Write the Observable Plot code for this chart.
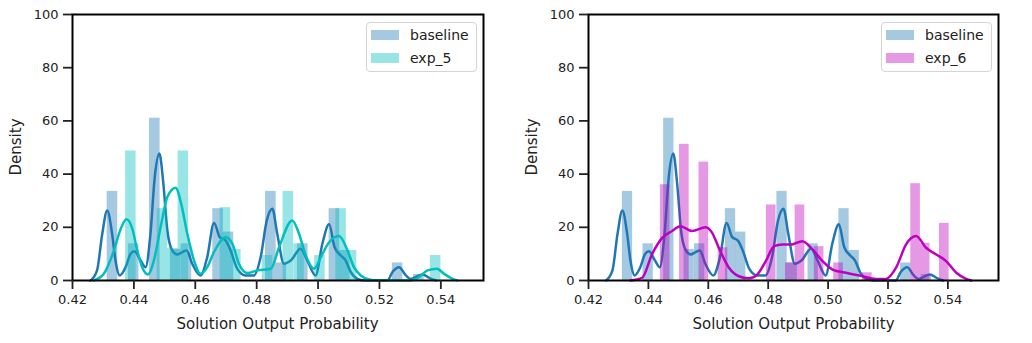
<!DOCTYPE html>
<html><head><meta charset="utf-8">
<script src="https://cdn.jsdelivr.net/npm/d3@7"></script>
<script src="https://cdn.jsdelivr.net/npm/@observablehq/plot@0.6"></script>
<style>
body{margin:0;background:#fff;}
#wrap{position:relative;width:1032px;height:343px;display:flex;}
.panel{position:relative;width:516px;height:343px;}
.legend{position:absolute;width:109px;height:48px;border:1px solid #d4d4d4;border-radius:4px;background:rgba(255,255,255,0.8);font:14px "DejaVu Sans",sans-serif;color:#222;}
.legend .row{position:absolute;left:0;height:20px;}
.legend .sw{position:absolute;left:4px;width:28px;height:10px;}
.legend .lb{position:absolute;left:43px;white-space:nowrap;line-height:20px;}
.xlab{position:absolute;top:314px;width:411px;text-align:center;font:15px "DejaVu Sans",sans-serif;color:#222;line-height:20px;}
.ylab{position:absolute;left:16px;top:147px;font:15px "DejaVu Sans",sans-serif;color:#222;line-height:20px;transform:translate(-50%,-50%) rotate(-90deg);white-space:nowrap;}
</style></head>
<body><div id="wrap"></div>
<script>
// ---- data ----
const xTicks = [0.42, 0.44, 0.46, 0.48, 0.50, 0.52, 0.54];
const yTicks = [0, 20, 40, 60, 80, 100];
const xLabel = "Solution Output Probability";
const yLabel = "Density";

// baseline histogram (bin left edge, density)
const baseBinWidth = 0.00344;
const baseBinX = [0.4313, 0.4382, 0.4451, 0.4519, 0.4554, 0.4657, 0.4691, 0.4829, 0.4863, 0.4933, 0.5036, 0.5070, 0.5242, 0.5311];
const baseBinH = [33.5, 13.8, 61.0, 11.7, 13.8, 27.0, 18.2, 33.5, 6.6, 13.8, 27.0, 11.3, 6.6, 2.3];

// exp_5 histogram
const exp5BinWidth = 0.003424;
const exp5BinX = [0.4373, 0.4476, 0.4510, 0.4544, 0.4681, 0.4715, 0.4818, 0.4886, 0.4921, 0.4989, 0.5058, 0.5092, 0.5366];
const exp5BinH = [48.7, 27.0, 12.0, 48.7, 27.4, 11.7, 9.4, 33.5, 13.8, 9.4, 27.0, 11.3, 9.4];

// exp_6 histogram
const exp6BinWidth = 0.003214;
const exp6BinX = [0.4440, 0.4504, 0.4569, 0.4633, 0.4794, 0.4858, 0.4890, 0.4954, 0.5019, 0.5115, 0.5276, 0.5308, 0.5372];
const exp6BinH = [36.0, 51.2, 44.5, 12.3, 28.4, 6.6, 28.4, 12.7, 6.6, 2.9, 36.4, 14.0, 21.5];

// KDE curves
const baseKdeX = [0.4259,0.4280,0.4297,0.4313,0.4329,0.4340,0.4354,0.4373,0.4389,0.4402,0.4422,0.4438,0.4454,0.4468,0.4483,0.4496,0.4509,0.4525,0.4541,0.4558,0.4572,0.4590,0.4617,0.4639,0.4661,0.4680,0.4699,0.4715,0.4737,0.4764,0.4791,0.4813,0.4833,0.4851,0.4867,0.4889,0.4911,0.4943,0.4965,0.4992,0.5014,0.5036,0.5054,0.5074,0.5090,0.5107,0.5128,0.5150,0.5226,0.5242,0.5264,0.5286,0.5302,0.5318,0.5340,0.5362,0.5384];
const baseKdeY = [0,3.8,17.6,26.3,17.6,7.5,1.9,5,10,11,7.5,5,17.6,38.9,47.7,36.4,18.8,11.3,9.8,10.7,11.3,6.3,1.9,8.8,21.6,16.3,15,11.3,4.4,1.9,1.9,8.8,22.6,27,17.6,6.3,7.5,11.9,7.5,1.9,13.8,21.1,12.5,9.4,7.5,3.1,0.6,0,0,3.1,5,1.9,0.6,1.3,2.3,1,0];

const exp5KdeX = [0.4270,0.4302,0.4335,0.4357,0.4376,0.4395,0.4411,0.4427,0.4446,0.4465,0.4487,0.4509,0.4536,0.4554,0.4574,0.4596,0.4617,0.4639,0.4661,0.4699,0.4721,0.4742,0.4770,0.4802,0.4846,0.4873,0.4916,0.4938,0.4960,0.4987,0.5009,0.5036,0.5068,0.5096,0.5117,0.5139,0.5166,0.5193,0.5302,0.5329,0.5357,0.5387,0.5411,0.5438,0.5454];
const exp5KdeY = [0,2.5,11.3,19.4,23,19.4,11.3,5,2.3,7.5,20,31.4,34.9,28.9,17.6,7.5,2.5,5,10.7,16.3,13.8,6.3,2.8,3.8,4.4,12.5,22.6,17.6,9.4,4.4,8.8,14.4,16.7,11.3,5,1.9,0.4,0,0,1.3,3.8,4.4,2.5,0.6,0];

const exp6KdeX = [0.4340,0.4379,0.4412,0.4446,0.4479,0.4507,0.4546,0.4591,0.4613,0.4635,0.4669,0.4702,0.4736,0.4764,0.4792,0.4820,0.4847,0.4875,0.4914,0.4948,0.4981,0.5015,0.5060,0.5115,0.5160,0.5193,0.5227,0.5260,0.5294,0.5327,0.5361,0.5394,0.5428,0.5461,0.5478];
const exp6KdeY = [0,1,9.8,16,18.6,20.4,18.6,20,17.9,12.3,4.8,1.6,0.8,2.3,7.3,12.9,13.5,13.5,14.8,11.7,7.3,4.1,2.9,1.6,0.6,0.6,4.8,13.5,16.7,12.3,9.8,7.3,2.9,0.6,0];

// ---- build ----
const bars = (xs, hs, w) => xs.map((x, i) => ({x1: x, x2: x + w, h: hs[i]}));
const pts = (xs, ys) => xs.map((x, i) => ({x, y: ys[i]}));

const BASE = "#1f77b4";
function panel({xmax, marginLeft, marginRight, expBars, expKde, color, fillRgba, name, legendLeft}) {
  const div = document.createElement("div");
  div.className = "panel";
  const chart = Plot.plot({
    width: 516, height: 343,
    marginLeft, marginRight, marginTop: 14, marginBottom: 63,
    x: {domain: [0.42, xmax]},
    y: {domain: [0, 100]},
    style: {fontFamily: "DejaVu Sans, sans-serif", fontSize: "13px", color: "#222", background: "white", overflow: "visible"},
    marks: [
      Plot.rectY(bars(baseBinX, baseBinH, baseBinWidth), {x1: "x1", x2: "x2", y: "h", fill: BASE, fillOpacity: 0.4}),
      Plot.line(pts(baseKdeX, baseKdeY), {x: "x", y: "y", stroke: BASE, strokeWidth: 2.5, curve: "monotone-x"}),
      Plot.rectY(expBars, {x1: "x1", x2: "x2", y: "h", fill: color, fillOpacity: 0.4}),
      Plot.line(expKde, {x: "x", y: "y", stroke: color, strokeWidth: 2.5, curve: "monotone-x"}),
      Plot.frame({stroke: "black", strokeWidth: 2}),
      Plot.axisX({ticks: xTicks, tickFormat: d => d.toFixed(2), tickSize: 9, tickPadding: 5, strokeWidth: 1.8, label: null}),
      Plot.axisY({ticks: yTicks, tickSize: 9, tickPadding: 5, strokeWidth: 1.8, label: null})
    ]
  });
  div.appendChild(chart);
  const xl = document.createElement("div");
  xl.className = "xlab";
  xl.style.left = marginLeft + "px";
  xl.textContent = xLabel;
  div.appendChild(xl);
  const yl = document.createElement("div");
  yl.className = "ylab";
  yl.textContent = yLabel;
  div.appendChild(yl);
  const lg = document.createElement("div");
  lg.className = "legend";
  lg.style.left = legendLeft + "px";
  lg.style.top = "22px";
  const entries = [["baseline", "rgba(31,119,180,0.4)"], [name, fillRgba]];
  entries.forEach(([t, c], i) => {
    const row = document.createElement("div");
    row.className = "row";
    row.style.top = (2 + i * 23) + "px";
    row.innerHTML = `<div class="sw" style="top:5px;background:${c}"></div><div class="lb">${t}</div>`;
    lg.appendChild(row);
  });
  div.appendChild(lg);
  return div;
}

const wrap = document.getElementById("wrap");
wrap.appendChild(panel({xmax: 0.5539, marginLeft: 72, marginRight: 33,
  expBars: bars(exp5BinX, exp5BinH, exp5BinWidth), expKde: pts(exp5KdeX, exp5KdeY),
  color: "#00bfbf", fillRgba: "rgba(0,191,191,0.4)", name: "exp_5", legendLeft: 366}));
wrap.appendChild(panel({xmax: 0.5569, marginLeft: 72, marginRight: 34,
  expBars: bars(exp6BinX, exp6BinH, exp6BinWidth), expKde: pts(exp6KdeX, exp6KdeY),
  color: "#bf00bf", fillRgba: "rgba(191,0,191,0.4)", name: "exp_6", legendLeft: 365}));
</script></body></html>
